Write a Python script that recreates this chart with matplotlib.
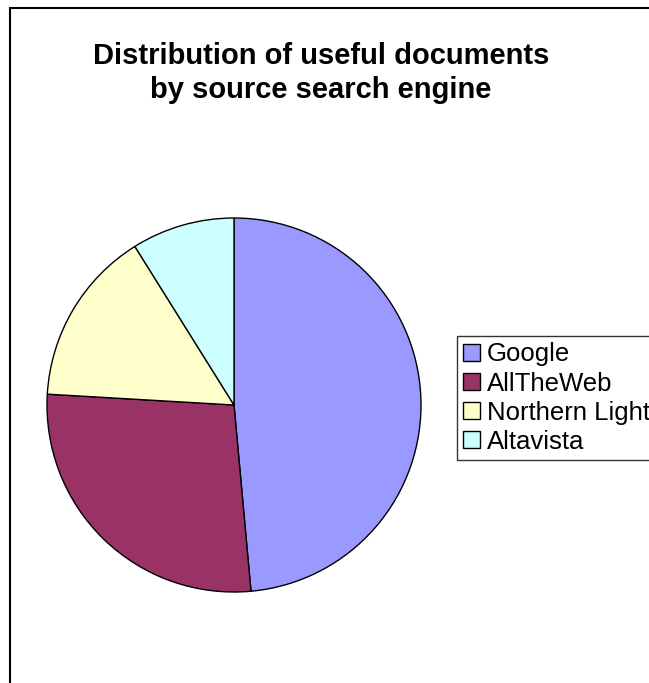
import matplotlib
matplotlib.use("Agg")
import matplotlib.pyplot as plt
from matplotlib.patches import Rectangle

plt.rcParams["font.family"] = ["Liberation Sans", "DejaVu Sans"]

engines = ["Google", "AllTheWeb", "Northern Light", "Altavista"]
shares = [48.6, 27.4, 15.2, 8.9]
colors = ["#9999FF", "#993366", "#FFFFCC", "#CCFFFF"]

W, H = 649, 683
fig = plt.figure(figsize=(W / 100, H / 100), dpi=100)

# outer chart frame (right and bottom edges run off the image)
fig.patches.append(Rectangle((10 / W, -0.1), 1.2, 1.1 - 8 / H,
                             transform=fig.transFigure, fill=False,
                             edgecolor="black", linewidth=1.5))

fig.text(321 / W, 1 - 73 / H, "Distribution of useful documents\nby source search engine",
         ha="center", va="center", fontsize=21, fontweight="bold", linespacing=1.28)

cx, cy, r = 234, 405, 187
ax = fig.add_axes([(cx - r) / W, (H - cy - r) / H, 2 * r / W, 2 * r / H])
wedges, _ = ax.pie(shares, colors=colors, startangle=90, counterclock=False,
                   wedgeprops=dict(edgecolor="black", linewidth=1))
ax.set_xlim(-1, 1)
ax.set_ylim(-1, 1)
ax.set_aspect("equal")
ax.axis("off")

leg = fig.legend(wedges, engines, loc="upper left",
                 bbox_to_anchor=(457 / W, 1 - 336 / H), bbox_transform=fig.transFigure,
                 fontsize=18.5, frameon=True, fancybox=False, edgecolor="black",
                 handlelength=0.66, handleheight=0.66, handletextpad=0.25,
                 labelspacing=0.2, borderpad=0.25, borderaxespad=0)
leg.get_frame().set_linewidth(1)
for h in leg.legend_handles:
    h.set_edgecolor("black")
    h.set_linewidth(1)

fig.savefig("out.png", dpi=100)
